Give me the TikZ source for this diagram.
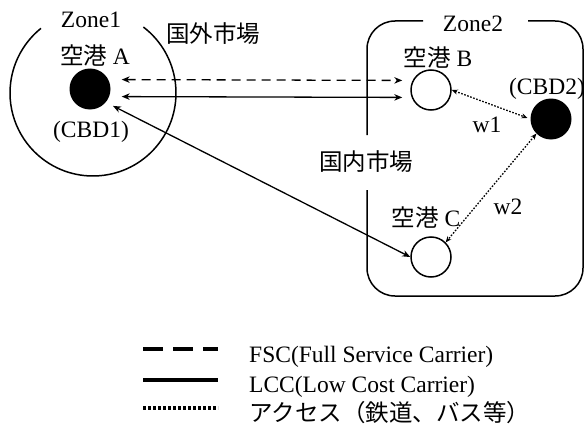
\documentclass[tikz,border=0pt]{standalone}
\usepackage{fontspec}
\setmainfont{Liberation Serif}
\newfontfamily\jp{Noto Sans CJK JP}
\usetikzlibrary{arrows.meta}
\begin{document}
\begin{tikzpicture}[x=1pt,y=-1pt,
  every node/.style={font=\fontsize{23.5}{28}\selectfont, inner sep=0pt},
  lbl/.style={anchor=base},
  cbd/.style={circle, fill=black, minimum size=41pt},
  apt/.style={circle, draw, line width=1.5pt, fill=white, minimum size=40pt},
  zone/.style={line width=1.5pt},
  conn/.style={line width=1.3pt, {Stealth[length=8pt,width=6.5pt]}-{Stealth[length=8pt,width=6.5pt]}},
  acc/.style={line width=1.3pt, dash pattern=on 1.6pt off 1.6pt, {Stealth[length=6pt,width=5pt]}-{Stealth[length=6pt,width=5pt]}},
  legline/.style={line width=4pt}
]
\useasboundingbox (0,0) rectangle (586,436);

% Zone 1
\draw[zone] (93,93) ++(-52.6:83) arc[start angle=-52.6, end angle=231.2, radius=83];
\node[lbl] (z1) at (91,28) {Zone1};

% Zone 2
\draw[zone, rounded corners=28pt] (423,21) -- (367,21) -- (367,135);
\draw[zone, rounded corners=28pt] (367,190) -- (367,296) -- (583,296) -- (583,21) -- (528,21);
\node[lbl] (z2) at (473,31.5) {Zone2};

% nodes
\node[cbd] (A) at (90,89) {};
\node[apt] (B) at (431,90) {};
\node[apt] (C) at (431,257) {};
\node[cbd] (D) at (551,119) {};

\node[lbl] (la) at (95,64) {{\jp 空港} A};
\node[lbl] (lcbd1) at (91,137) {(CBD1)};
\node[lbl] (lb) at (438,66.5) {{\jp 空港} B};
\node[lbl] (lcbd2) at (547,94) {(CBD2)};
\node[lbl] (lc) at (426,226) {{\jp 空港} C};
\node[lbl] (lw1) at (487,132) {w1};
\node[lbl] (lw2) at (508,214) {w2};
\node[lbl, font=\fontsize{23.5}{28}\selectfont\jp] (intl) at (213,42.5) {国外市場};
\node[lbl, font=\fontsize{23.5}{28}\selectfont\jp] (dom) at (366,170.5) {国内市場};

% connectors
\draw[conn, dashed, dash pattern=on 9pt off 6pt, transform canvas={yshift=9.5pt}, shorten <=11pt, shorten >=8pt] (A) -- (B);
\draw[conn, transform canvas={yshift=-7.5pt}, shorten <=11pt, shorten >=8pt] (A) -- (B);
\draw[conn, shorten <=8pt] (A.-40) -- (C.west);
\draw[acc, shorten >=3pt] (B.east) -- (D.west);
\draw[acc] (D.225) -- (C.45);

% legend
\coordinate (l1a) at (143,349); \coordinate (l1b) at (218,349);
\coordinate (l2a) at (143,380); \coordinate (l2b) at (218,380);
\coordinate (l3a) at (143,408); \coordinate (l3b) at (218,408);
\draw[legline, dash pattern=on 20pt off 10pt] (l1a) -- (l1b);
\draw[legline] (l2a) -- (l2b);
\draw[legline, dash pattern=on 3pt off 2pt] (l3a) -- (l3b);
\node[lbl, anchor=base west] (t1) at (249,362) {FSC(Full Service Carrier)};
\node[lbl, anchor=base west] (t2) at (249,392) {LCC(Low Cost Carrier)};
\node[lbl, anchor=base west, font=\fontsize{23.5}{28}\selectfont\jp] (t3) at (249,421) {アクセス（鉄道、バス等）};
\end{tikzpicture}
\end{document}
